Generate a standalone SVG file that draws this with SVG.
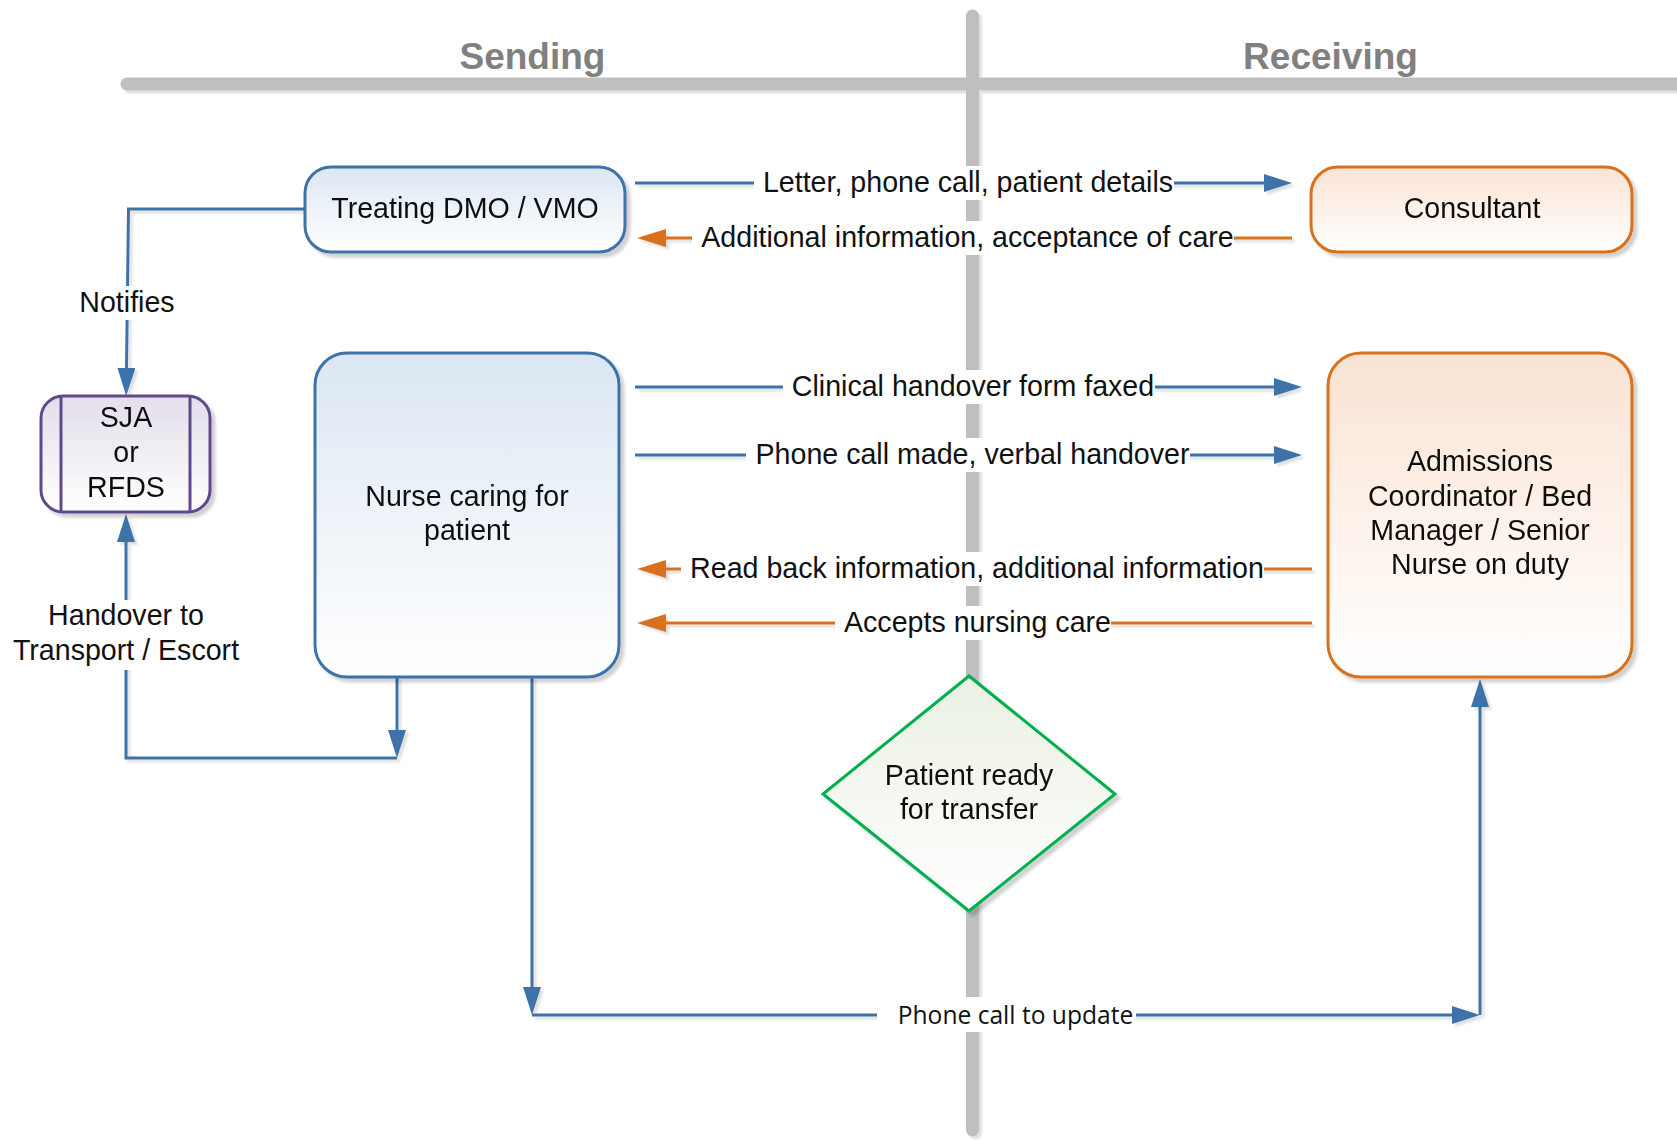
<svg xmlns="http://www.w3.org/2000/svg" width="1677" height="1140" viewBox="0 0 1677 1140">
<style>
.t{font-family:"Liberation Sans",Arial,sans-serif;font-size:28.6px;fill:#111;text-anchor:middle}
.h{font-family:"Liberation Sans",Arial,sans-serif;font-size:37px;font-weight:bold;fill:#808080;text-anchor:middle}
.u{font-family:"Open Sans","Liberation Sans",sans-serif;font-size:24.6px;fill:#111;text-anchor:middle}
.bl{fill:none;stroke:#3E73A8;stroke-width:3}
.or{fill:none;stroke:#D9711F;stroke-width:3}
.bg{fill:#fff}
.bar{stroke:#BFBFBF;stroke-width:13;stroke-linecap:round}
</style>
<defs>
<linearGradient id="gBlue" x1="0" y1="0" x2="0" y2="1"><stop offset="0" stop-color="#DCE7F3"/><stop offset="1" stop-color="#FFFFFF"/></linearGradient>
<linearGradient id="gOr" x1="0" y1="0" x2="0" y2="1"><stop offset="0" stop-color="#FAE3D3"/><stop offset="1" stop-color="#FFFFFF"/></linearGradient>
<linearGradient id="gPu" x1="0" y1="0" x2="0" y2="1"><stop offset="0" stop-color="#E3DEEB"/><stop offset="1" stop-color="#FFFFFF"/></linearGradient>
<linearGradient id="gGr" x1="0" y1="0" x2="0" y2="1"><stop offset="0" stop-color="#EAF0E2"/><stop offset="1" stop-color="#FFFFFF"/></linearGradient>
<filter id="sh" x="-10%" y="-10%" width="130%" height="130%"><feDropShadow dx="4" dy="4" stdDeviation="1.5" flood-color="#000" flood-opacity="0.18"/></filter>
<filter id="shl" x="-5%" y="-5%" width="110%" height="110%"><feDropShadow dx="3" dy="3" stdDeviation="1" flood-color="#000" flood-opacity="0.12"/></filter>
<marker id="aB" markerUnits="userSpaceOnUse" markerWidth="30" markerHeight="20" refX="0" refY="9" orient="auto"><path d="M0,0 L28,9 L0,18 z" fill="#3E73A8"/></marker>
<marker id="aO" markerUnits="userSpaceOnUse" markerWidth="30" markerHeight="20" refX="0" refY="9" orient="auto"><path d="M0,0 L29,9 L0,18 z" fill="#D9711F"/></marker>
</defs>
<rect width="1677" height="1140" fill="#fff"/>
<g id="lanes" filter="url(#shl)">
<line class="bar" x1="127" y1="84" x2="1695" y2="84"/>
<line class="bar" x1="972.5" y1="16" x2="972.5" y2="1130"/>
</g>
<text class="h" x="532.5" y="69">Sending</text>
<text class="h" x="1330.5" y="69">Receiving</text>
<g id="connectors" filter="url(#shl)">
<path class="bl" d="M635,183 H1264" marker-end="url(#aB)"/>
<path class="or" d="M1292,238 H666" marker-end="url(#aO)"/>
<path class="bl" d="M635,387 H1274" marker-end="url(#aB)"/>
<path class="bl" d="M635,455 H1274" marker-end="url(#aB)"/>
<path class="or" d="M1312,569 H666" marker-end="url(#aO)"/>
<path class="or" d="M1312,623 H666" marker-end="url(#aO)"/>
<path class="bl" d="M304,209 H128.5 L126.5,368" marker-end="url(#aB)"/>
<path class="bl" d="M397,677 V730" marker-end="url(#aB)"/>
<path class="bl" d="M397,758 H126 V542" marker-end="url(#aB)"/>
<path class="bl" d="M532,677 V987" marker-end="url(#aB)"/>
<path class="bl" d="M532,1015 H1452" marker-end="url(#aB)"/>
<path class="bl" d="M1480,1015 V707" marker-end="url(#aB)"/>
</g>
<g id="labels">
<rect class="bg" x="754" y="166" width="420" height="34"/>
<text class="t" x="968" y="192">Letter, phone call, patient details</text>
<rect class="bg" x="692" y="221" width="542" height="34"/>
<text class="t" x="967.5" y="247">Additional information, acceptance of care</text>
<rect class="bg" x="783" y="370" width="372" height="34"/>
<text class="t" x="973" y="396">Clinical handover form faxed</text>
<rect class="bg" x="746" y="438" width="444" height="34"/>
<text class="t" x="972.5" y="464">Phone call made, verbal handover</text>
<rect class="bg" x="681" y="552" width="583" height="34"/>
<text class="t" x="977" y="578">Read back information, additional information</text>
<rect class="bg" x="835" y="606" width="276" height="34"/>
<text class="t" x="977.5" y="632">Accepts nursing care</text>
<rect class="bg" x="877" y="997" width="259" height="35"/>
<text class="u" x="1015.5" y="1024">Phone call to update</text>
<rect class="bg" x="78" y="286" width="98" height="34"/>
<text class="t" x="127" y="312">Notifies</text>
<rect class="bg" x="8" y="600" width="238" height="70"/>
<text class="t" x="126" y="625">Handover to</text>
<text class="t" x="126" y="660">Transport / Escort</text>
</g>
<g id="treating" filter="url(#sh)">
<rect x="305" y="167" width="320" height="85" rx="26" fill="url(#gBlue)" stroke="#3E73A8" stroke-width="3"/>
<text class="t" x="465" y="218">Treating DMO / VMO</text>
</g>
<g id="consultant" filter="url(#sh)">
<rect x="1311" y="167" width="321" height="85" rx="27" fill="url(#gOr)" stroke="#D9711F" stroke-width="3"/>
<text class="t" x="1472" y="218">Consultant</text>
</g>
<g id="nurse" filter="url(#sh)">
<rect x="315" y="353" width="304" height="324" rx="32" fill="url(#gBlue)" stroke="#3E73A8" stroke-width="3"/>
<text class="t" x="467" y="506">Nurse caring for</text>
<text class="t" x="467" y="540">patient</text>
</g>
<g id="admissions" filter="url(#sh)">
<rect x="1328" y="353" width="304" height="324" rx="33" fill="url(#gOr)" stroke="#D9711F" stroke-width="3"/>
<text class="t" x="1480" y="471">Admissions</text>
<text class="t" x="1480" y="506">Coordinator / Bed</text>
<text class="t" x="1480" y="540">Manager / Senior</text>
<text class="t" x="1480" y="574">Nurse on duty</text>
</g>
<g id="sja" filter="url(#sh)">
<rect x="41" y="396" width="169" height="116" rx="22" fill="url(#gPu)" stroke="#5F4A8B" stroke-width="3"/>
<line x1="61" y1="396" x2="61" y2="512" stroke="#5F4A8B" stroke-width="3"/>
<line x1="190" y1="396" x2="190" y2="512" stroke="#5F4A8B" stroke-width="3"/>
<text class="t" x="126" y="427">SJA</text>
<text class="t" x="126" y="462">or</text>
<text class="t" x="126" y="497">RFDS</text>
</g>
<g id="ready" filter="url(#sh)">
<polygon points="969,676 1115,794 969,911 823,794" fill="url(#gGr)" stroke="#00B050" stroke-width="3"/>
<text class="t" x="969" y="785">Patient ready</text>
<text class="t" x="969" y="819">for transfer</text>
</g>
</svg>
